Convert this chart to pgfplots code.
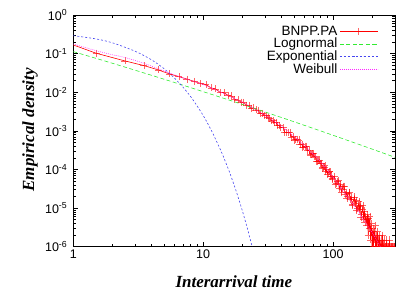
\documentclass[border=0pt]{standalone}
\usepackage{fontspec}
\setmainfont{Liberation Sans}
\newfontfamily\labelfont{Liberation Serif}
\usepackage{pgfplots}
\pgfplotsset{compat=1.18}
\definecolor{gpred}{RGB}{255,0,0}
\definecolor{gpgreen}{RGB}{50,235,50}
\definecolor{gpblue}{RGB}{70,70,240}
\definecolor{gpmag}{RGB}{255,40,255}
\begin{document}
\begin{tikzpicture}
\begin{axis}[
  scale only axis, width=321.7pt, height=231.7pt,
  xmode=log, ymode=log, log basis x=10, log basis y=10,
  xmin=1, xmax=300, ymin=1e-6, ymax=1,
  xtick={1,10,100}, xticklabels={1,10,100},
  minor xtick={2,3,4,5,6,7,8,9,20,30,40,50,60,70,80,90,200},
  ytick={1e-6,1e-5,1e-4,1e-3,1e-2,1e-1,1},
  yticklabels={10\textsuperscript{-6},10\textsuperscript{-5},10\textsuperscript{-4},10\textsuperscript{-3},10\textsuperscript{-2},10\textsuperscript{-1},10\textsuperscript{0}},
  minor ytick={2e-6,3e-6,4e-6,5e-6,6e-6,7e-6,8e-6,9e-6,2e-5,3e-5,4e-5,5e-5,6e-5,7e-5,8e-5,9e-5,2e-4,3e-4,4e-4,5e-4,6e-4,7e-4,8e-4,9e-4,2e-3,3e-3,4e-3,5e-3,6e-3,7e-3,8e-3,9e-3,2e-2,3e-2,4e-2,5e-2,6e-2,7e-2,8e-2,9e-2,0.2,0.3,0.4,0.5,0.6,0.7,0.8,0.9},
  tick label style={font=\fontsize{12.5}{14}\selectfont},
  yticklabel style={xshift=-2.5pt},
  major tick length=5pt, minor tick length=2.8pt,
  tick style={black, line width=0.6pt},
  axis line style={line width=0.8pt},
  clip marker paths=true,
  xlabel={\labelfont\bfseries\itshape Interarrival time},
  ylabel={\labelfont\bfseries\itshape Empirical density},
  xlabel style={font=\fontsize{17}{19}\selectfont, at={(axis description cs:0.499,-0.151)}, anchor=center},
  ylabel style={font=\fontsize{17}{19}\selectfont, at={(axis description cs:-0.1346,0.504)}, anchor=center},
  legend style={at={(axis description cs:0.948,0.962)}, anchor=north east, draw=none, fill=none,
    font=\fontsize{13.5}{14}\selectfont, row sep=-2.6pt, inner sep=0pt},
  legend cell align=right,
  legend plot pos=right,
  legend image code/.code={\draw[mark repeat=2,mark phase=2,#1] plot coordinates {(0pt,0pt) (19pt,0pt) (38pt,0pt)};},
]
\coordinate (bl) at (rel axis cs:0,0);
\coordinate (tr) at (rel axis cs:1,1);
\addplot[gpred, line width=0.6pt, mark=+, mark size=3.5pt, mark options={solid, draw opacity=0.6}] coordinates {
(0.5,0.39) (1.5,0.1023) (2.5,0.0646) (3.5,0.0490) (4.5,0.0380) (5.5,0.0298) (6.5,0.0254) (7.5,0.0219) (8.5,0.0191) (9.5,0.0170)
(10.5,1.585e-2) (11.5,1.288e-2) (12.5,1.213e-2) (13.5,9.93e-3) (14.5,9.70e-3) (15.5,8.34e-3) (16.5,8.04e-3) (17.5,6.56e-3) (18.5,6.32e-3) (19.5,5.58e-3)
(20.5,5.48e-3) (21.5,4.65e-3) (22.5,4.53e-3) (23.5,3.86e-3) (24.5,3.93e-3) (25.5,3.48e-3) (26.5,3.44e-3) (27.5,2.86e-3) (28.5,2.82e-3) (29.5,2.53e-3)
(30.5,2.53e-3) (31.5,2.18e-3) (32.5,2.13e-3) (33.5,1.82e-3) (34.5,1.85e-3) (35.5,1.64e-3) (36.5,1.63e-3) (37.5,1.374e-3) (38.5,1.358e-3) (39.5,1.227e-3)
(41.5,1.205e-3) (42.5,9.18e-4) (43.5,9.04e-4) (45.5,8.97e-4) (46.5,9.08e-4) (47.5,6.81e-4) (49.5,7.33e-4) (50.5,5.75e-4) (51.5,5.97e-4) (53.5,6.14e-4) (54.5,5.82e-4) (55.5,4.49e-4) (57.5,4.54e-4) (58.5,3.67e-4) (59.5,3.84e-4)
(61.5,4.00e-4) (62.5,3.99e-4) (63.5,3.09e-4) (65.5,3.10e-4) (66.5,2.44e-4) (67.5,2.37e-4) (69.5,2.56e-4) (70.5,2.61e-4) (71.5,2.11e-4) (73.5,2.19e-4) (74.5,1.62e-4) (75.5,1.62e-4) (77.5,1.66e-4) (78.5,1.77e-4) (79.5,1.41e-4)
(81.5,1.47e-4) (82.5,1.084e-4) (83.5,1.135e-4) (85.5,1.16e-4) (86.5,1.245e-4) (87.5,9.04e-5) (89.5,9.95e-5) (90.5,7.59e-5) (91.5,8.34e-5) (93.5,8.79e-5) (94.5,8.83e-5) (95.5,6.58e-5) (97.5,6.81e-5) (98.5,5.44e-5) (99.5,5.87e-5)
(102.5,6.59e-5) (104,4.12e-5) (105.5,4.28e-5) (108.5,4.84e-5) (110,5.27e-5) (111.5,3.16e-5) (114.5,4.14e-5) (116,2.60e-5) (117.5,3.12e-5) (120.5,3.73e-5) (122,3.73e-5) (123.5,2.25e-5) (126.5,2.58e-5) (128,1.79e-5) (129.5,2.05e-5)
(132.5,2.47e-5) (134,2.60e-5) (135.5,1.64e-5) (138.5,1.90e-5) (140,1.20e-5) (141.5,1.265e-5) (144.5,1.68e-5) (146,1.95e-5) (147.5,1.294e-5) (150.5,1.58e-5) (152,8.53e-6) (153.5,9.64e-6) (156.5,1.125e-5) (158,1.46e-5) (159.5,9.10e-6)
(162.5,1.216e-5) (164,5.87e-6) (165.5,6.97e-6) (168.5,9.14e-6) (170,1.16e-5) (171.5,5.24e-6) (174.5,8.49e-6) (176,4.20e-6) (177.5,6.0e-6)
(180.5,5.0e-6) (182.5,3.5e-6) (184.5,7.0e-6) (186.5,2.0e-6) (188.5,5.5e-6) (190.5,3.0e-6) (192.5,6.0e-6) (194.5,1.5e-6) (196.5,4.0e-6) (198.5,2.5e-6)
(200.5,5.0e-7) (202.5,3.0e-6) (204.5,1.0e-6) (206.5,2.5e-6) (208.5,1.5e-6) (210.5,3.5e-6) (212.5,5.0e-7) (214.5,2.0e-6) (216.5,1.0e-6) (218.5,1.5e-6)
(220.5,2.5e-6) (222.5,5.0e-7) (224.5,1.5e-6) (226.5,1.0e-6) (228.5,2.0e-6) (230.5,5.0e-7) (232.5,1.0e-6) (234.5,1.5e-6) (236.5,5.0e-7) (238.5,1.0e-6)
(240.5,2.0e-6) (242.5,1.0e-6) (244.5,5.0e-7) (246.5,1.5e-6) (248.5,1.0e-6) (250.5,5.0e-7) (252.5,1.0e-6) (254.5,1.0e-6) (256.5,5.0e-7) (258.5,1.5e-6)
(260.5,1.0e-6) (262.5,5.0e-7) (264.5,1.0e-6) (266.5,1.0e-6) (268.5,5.0e-7) (270.5,1.0e-6) (272.5,1.5e-6) (274.5,5.0e-7) (276.5,1.0e-6) (278.5,1.0e-6)
(280.5,5.0e-7) (282.5,1.0e-6) (284.5,5.0e-7) (286.5,1.0e-6) (288.5,1.0e-6) (290.5,5.0e-7) (292.5,1.0e-6) (294.5,1.0e-6) (296.5,5.0e-7) (298.5,1.0e-6)
};
\addlegendentry{BNPP.PA}
\addplot[gpgreen, line width=0.6pt, dash pattern=on 4pt off 2.5pt, smooth] coordinates {
(1,0.1127) (1.778,0.0634) (3.162,0.0351) (5.623,0.0192) (10,0.01035) (17.78,0.00552) (31.62,0.0029) (56.23,0.001503) (100,0.000769) (177.8,0.000388) (300,0.0002065)
};
\addlegendentry{Lognormal}
\addplot[gpblue, line width=0.6pt, dash pattern=on 2pt off 2pt, smooth] coordinates {
(1,0.2917) (1.5,0.2399) (2,0.1905) (3,0.1148) (4,0.0692) (5,0.0407) (6,0.0234) (7,0.0135) (8,0.00776) (9,0.00437) (10,0.00251) (11,0.00141) (12,0.000794) (13,0.000447) (14,0.000257) (15,0.000145) (16,8.32e-5) (17,4.68e-5) (18,2.69e-5) (19,1.51e-5) (20,8.71e-6) (21,4.90e-6) (22,2.82e-6) (23,1.58e-6) (24,9.12e-7) (25,5.13e-7)
};
\addlegendentry{Exponential}
\addplot[gpmag, line width=0.6pt, dash pattern=on 0.8pt off 1.2pt, smooth] coordinates {
(1,0.1778) (1.5,0.1191) (2,0.0933) (2.5,0.0794) (3.5,0.0562) (4.5,0.0407) (5.5,0.0316) (7,0.0234) (10,0.01585) (15,0.00871) (20,0.0055) (30,0.00251) (40,0.001318) (50,0.000724) (60,0.000417) (70,0.000251) (80,0.0001585) (100,6.31e-5) (120,2.75e-5) (150,1.0e-5) (180,3.98e-6) (210,1.78e-6) (240,8.3e-7) (270,3.98e-7) (300,2.0e-7)
};
\addlegendentry{Weibull}
\end{axis}
\pgfresetboundingbox
\path[use as bounding box] ([xshift=-73.3pt,yshift=-43.3pt]bl) rectangle ([xshift=20pt,yshift=15pt]tr);
\end{tikzpicture}
\end{document}
